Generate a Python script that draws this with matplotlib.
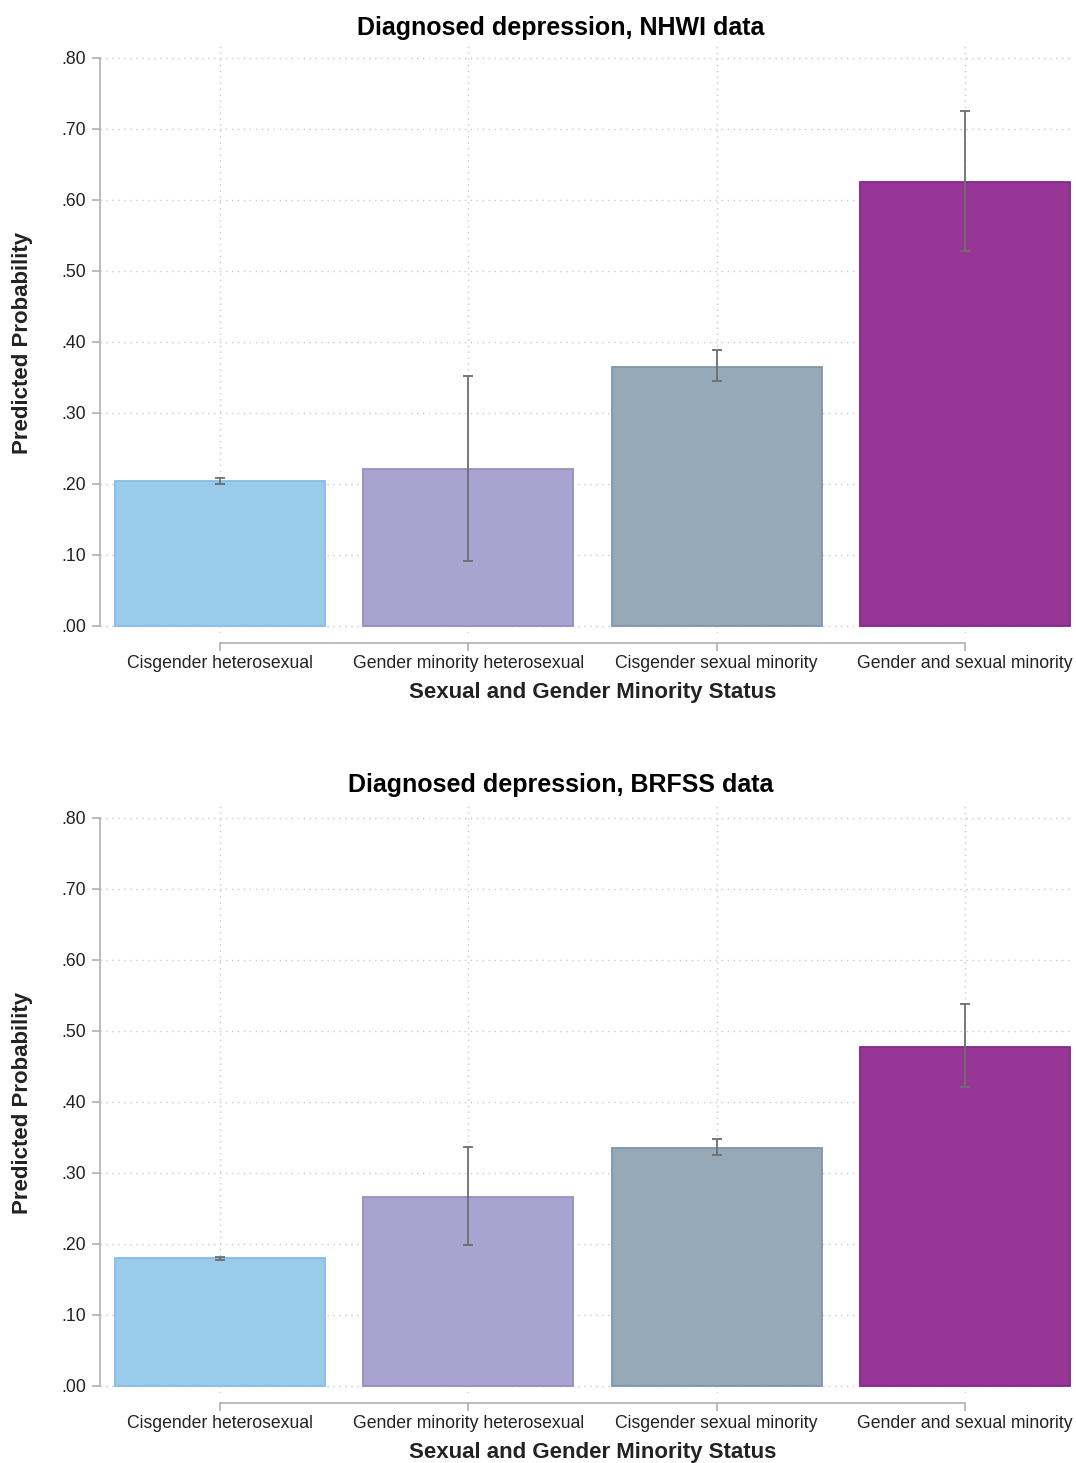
import matplotlib.pyplot as plt
import numpy as np

plt.rcParams['font.family'] = ['Liberation Sans', 'DejaVu Sans']

# groups and estimates
categories = ['Cisgender heterosexual', 'Gender minority heterosexual',
              'Cisgender sexual minority', 'Gender and sexual minority']
yticks = [0.0, 0.1, 0.2, 0.3, 0.4, 0.5, 0.6, 0.7, 0.8]
ytick_labels = ['.00', '.10', '.20', '.30', '.40', '.50', '.60', '.70', '.80']

nhwi_prob = [0.204, 0.221, 0.365, 0.625]
nhwi_lo = [0.200, 0.092, 0.345, 0.528]
nhwi_hi = [0.208, 0.352, 0.389, 0.725]

brfss_prob = [0.180, 0.266, 0.335, 0.477]
brfss_lo = [0.178, 0.199, 0.326, 0.421]
brfss_hi = [0.182, 0.336, 0.348, 0.538]

fills = ['#9bcbeb', '#a9a4cf', '#96a9b8', '#983695']
edges = ['#86bde6', '#958dc3', '#7e95ab', '#85278a']

W, H = 1076, 1463
fig = plt.figure(figsize=(W / 100, H / 100), dpi=100)


def panel(top_px, bot_px, title, prob, lo, hi, title_off):
    ax = fig.add_axes([100 / W, 1 - bot_px / H, 974 / W, (bot_px - top_px) / H])
    x = np.arange(1, 5)
    prob = np.array(prob)
    err = [prob - np.array(lo), np.array(hi) - prob]
    ax.bar(x, prob, width=0.846, color=fills, edgecolor=edges, linewidth=1.3, zorder=2)
    ax.errorbar(x, prob, yerr=err, fmt='none', ecolor='#6e6e6e', elinewidth=1.3,
                capsize=3.4, capthick=1.3, zorder=3)
    ax.set_xlim(0.5168, 4.439)
    ax.set_ylim(-0.0099, 0.8197)
    ax.set_yticks(yticks)
    ax.set_yticklabels(ytick_labels)
    ax.set_xticks(x)
    ax.set_xticklabels(categories)
    ax.grid(True, linestyle=(0, (1, 3.3)), color='#c8c8c8', linewidth=1, zorder=0)
    ax.set_axisbelow(True)
    for s in ['top', 'right']:
        ax.spines[s].set_visible(False)
    ax.spines['left'].set_bounds(0, 0.8)
    ax.spines['bottom'].set_bounds(1, 4)
    ax.spines['bottom'].set_position(('outward', 7))
    for s in ['left', 'bottom']:
        ax.spines[s].set_color('#b0b0b0')
        ax.spines[s].set_linewidth(1.2)
    ax.tick_params(axis='both', colors='#b0b0b0', labelcolor='#222222',
                   labelsize=12.7, length=6, width=1.2)
    ax.tick_params(axis='x', pad=3)
    ax.tick_params(axis='y', pad=4)

    fig.text(561 / W, 1 - (top_px - title_off) / H, title, ha='center', va='center',
             fontsize=18, fontweight='bold', color='black')
    ax.set_xlabel('Sexual and Gender Minority Status', fontsize=16,
                  fontweight='bold', color='#222222')
    ax.xaxis.set_label_coords((593 - 100) / 974, -49 / (bot_px - top_px))
    ax.set_ylabel('Predicted Probability', fontsize=16, fontweight='bold',
                  color='#222222')
    ax.yaxis.set_label_coords((33 - 100) / 974, 0.493)
    return ax


panel(44, 633, 'Diagnosed depression, NHWI data', nhwi_prob, nhwi_lo, nhwi_hi, 16)
panel(804, 1393, 'Diagnosed depression, BRFSS data', brfss_prob, brfss_lo, brfss_hi, 19)

fig.savefig('out.png', dpi=100, facecolor='white')
